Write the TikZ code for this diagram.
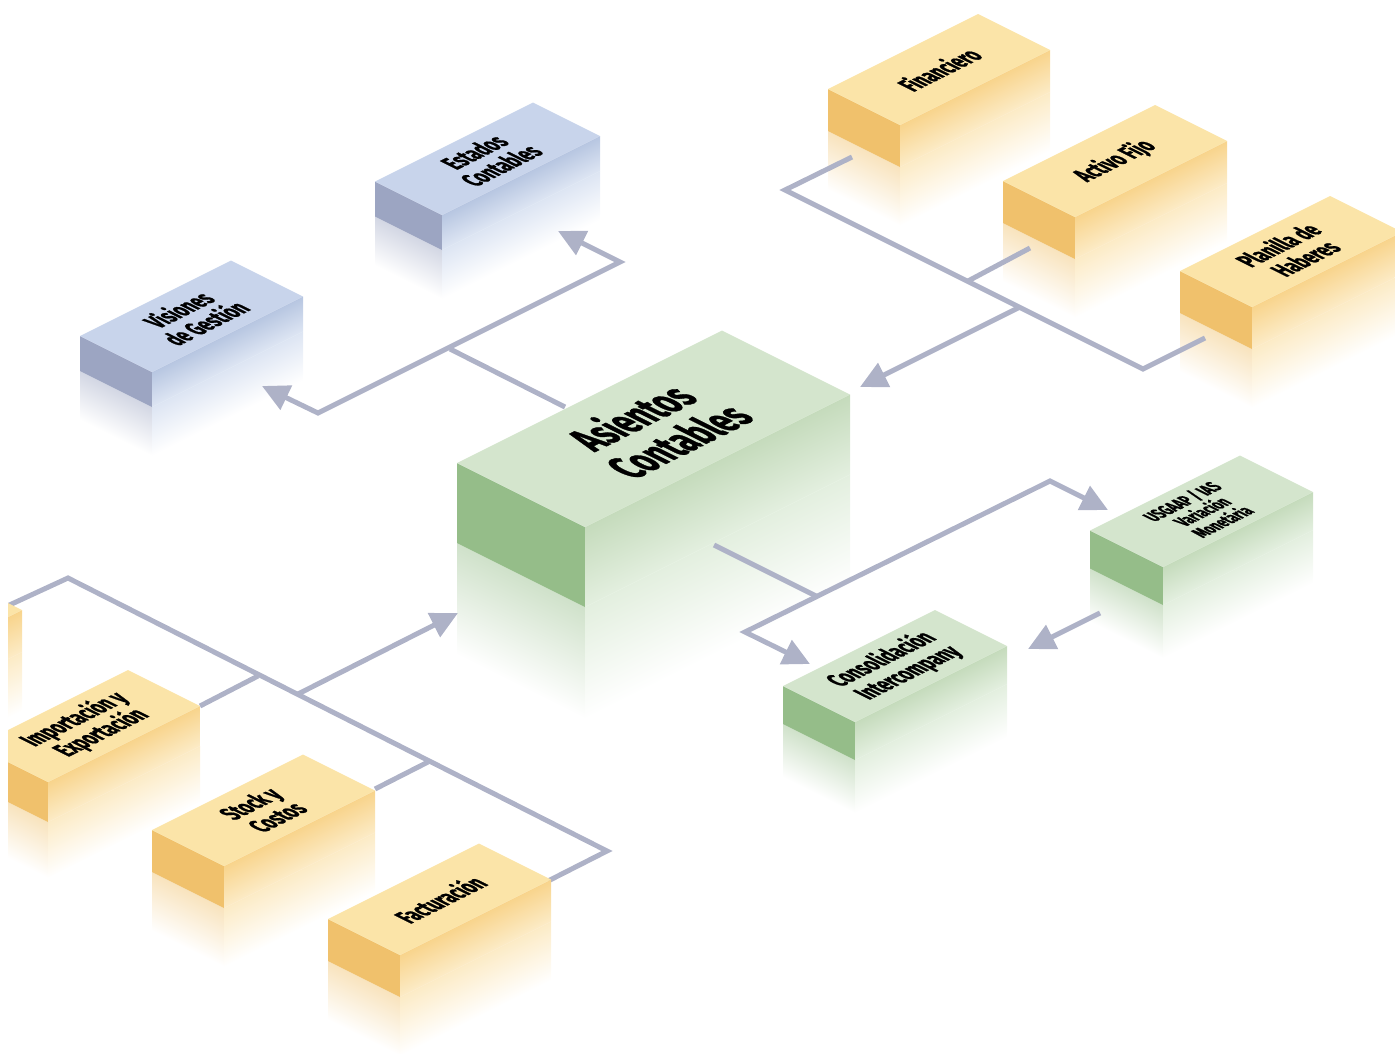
\documentclass[tikz,border=0pt]{standalone}
\usepackage{fontspec}
\setmainfont{Fira Sans}
\newfontfamily\labfont[FakeBold=1.2]{Fira Sans}
\usetikzlibrary{arrows.meta}
\definecolor{y-top}{HTML}{FBE4A8}
\definecolor{y-left}{HTML}{F0C16C}
\definecolor{y-right}{HTML}{F8D48C}
\definecolor{y-rr}{HTML}{FCEBC6}
\definecolor{g-top}{HTML}{D4E5CD}
\definecolor{g-left}{HTML}{95BD89}
\definecolor{g-right}{HTML}{C5DBBC}
\definecolor{g-rr}{HTML}{E3EFDF}
\definecolor{b-top}{HTML}{C8D4EB}
\definecolor{b-left}{HTML}{9CA5C2}
\definecolor{b-right}{HTML}{B7C6E1}
\definecolor{b-rr}{HTML}{DDE5F3}
\definecolor{lineC}{HTML}{AEB2C7}
\tikzset{
  conn/.style={draw=lineC, line width=5pt, line join=miter},
  arr/.style={conn, -{Triangle[length=27pt,width=26pt]}},
  biarr/.style={conn, {Triangle[length=27pt,width=26pt]}-{Triangle[length=27pt,width=26pt]}},
  isotext/.style={transform shape, align=center, inner sep=0pt, text=black}
}
% coordinates of a block: #1 name, #2 #3 front-top corner, #4 L, #5 R
\newcommand\isobox[5]{%
  \coordinate (#1-F) at (#2,#3);
  \path (#1-F) ++(-#4,-#4/2) coordinate (#1-L);
  \path (#1-F) ++(#5,-#5/2) coordinate (#1-R);
  \path (#1-F) ++(#5/2-#4/2,-#4/4-#5/4) coordinate (#1-C);
}
% reflections: #1 name #2 L #3 R #4 H #5 palette
\newcommand\boxrefl[5]{%
  \begin{scope}[shift={(#1-L)}, cm={1,-0.5,0,1,(0,0)}]
    \pgflowlevelsynccm
    \shade[top color=#5-left!45!white, bottom color=white] (0,#4) -- (#2,#4) -- (#2,2.4*#4) -- (0,2.4*#4) -- cycle;
  \end{scope}
  \begin{scope}[shift={(#1-F)}, cm={1,0.5,0,1,(0,0)}]
    \pgflowlevelsynccm
    \shade[top color=#5-rr, bottom color=white] (0,#4) -- (#3,#4) -- (#3,2.4*#4) -- (0,2.4*#4) -- cycle;
  \end{scope}
}
% faces
\newcommand\boxfaces[5]{%
  \fill[#5-left] (#1-L) -- (#1-F) -- ++(0,#4) -- ++(-#2,-#2/2) -- cycle;
  \begin{scope}[shift={(#1-F)}, cm={1,0.5,0,1,(0,0)}]
    \pgflowlevelsynccm
    \shade[top color=#5-right, bottom color=#5-rr] (0,0) -- (#3,0) -- (#3,#4) -- (0,#4) -- cycle;
  \end{scope}
  \fill[#5-top] (#1-F) -- (#1-L) -- ++(#3,-#3/2) -- (#1-R) -- cycle;
}
\newcommand\isolabel[4]{% #1 box name, #2 font size, #3 leading, #4 text
  \begin{scope}[shift={(#1-C)}, cm={0.5366,0.2683,-0.8944,0.4472,(0,0)}]
    \node[isotext, font=\labfont\fontsize{#2}{#3}\selectfont\bfseries] (#1-text) at (0,0) {#4};
  \end{scope}
}
\begin{document}
\begin{tikzpicture}[x=1pt,y=-1pt]
\useasboundingbox (0,0) rectangle (1395,1053);
\clip (8,0) rectangle (1395,1053);
% blocks
\isobox{main}{585}{527}{128}{265}
\isobox{est}{442}{215}{67}{158}
\isobox{vis}{152}{372}{72}{151}
\isobox{fin}{900}{125}{72}{150}
\isobox{act}{1075}{217}{72}{152}
\isobox{pla}{1252}{307}{72}{150}
\isobox{usg}{1163}{567}{73}{150}
\isobox{con}{855}{722}{72}{152}
\isobox{ext}{-128}{685}{72}{150}
\isobox{imp}{48}{782}{72}{152}
\isobox{sto}{224}{866}{72}{151}
\isobox{fac}{400}{955}{72}{151}
% reflections
\boxrefl{est}{67}{158}{35}{b}
\boxrefl{vis}{72}{151}{35}{b}
\boxrefl{fin}{72}{150}{42}{y}
\boxrefl{act}{72}{152}{42}{y}
\boxrefl{pla}{72}{150}{42}{y}
\boxrefl{main}{128}{265}{80}{g}
\boxrefl{usg}{73}{150}{38}{g}
\boxrefl{con}{72}{152}{38}{g}
\boxrefl{ext}{72}{150}{42}{y}
\boxrefl{imp}{72}{152}{40}{y}
\boxrefl{sto}{72}{151}{42}{y}
\boxrefl{fac}{72}{151}{42}{y}
% connector points
\coordinate (tl-s) at (565,407);
\coordinate (tl-j) at (450,349);
\coordinate (tl-a) at (318,413);
\coordinate (tl-b) at (620,262);
\coordinate (vis-tip) at (262,386);
\coordinate (est-tip) at (558,231);
\coordinate (fin-s) at (852,157);
\coordinate (tr-c1) at (785,190);
\coordinate (tr-c2) at (1143,369);
\coordinate (pla-s) at (1205,338);
\coordinate (act-s) at (1030,248);
\coordinate (tr-j1) at (968,281);
\coordinate (tr-j2) at (1020,307);
\coordinate (main-tip1) at (860,387);
\coordinate (br-s) at (714,545);
\coordinate (br-j) at (818,597);
\coordinate (br-c1) at (745,632);
\coordinate (br-c2) at (1050,481);
\coordinate (usg-tip) at (1108,510);
\coordinate (con-tip) at (810,664);
\coordinate (usg-s) at (1100,613);
\coordinate (con-tip2) at (1028,649);
\coordinate (ext-s) at (-10,614);
\coordinate (bl-c1) at (68,578);
\coordinate (bl-c2) at (607,851);
\coordinate (fac-s) at (548,881);
\coordinate (imp-s) at (200,706);
\coordinate (bl-j1) at (258,676);
\coordinate (sto-s) at (375,789);
\coordinate (bl-j2) at (428,762);
\coordinate (bl-j3) at (298,694);
\coordinate (main-tip2) at (458,613);
% connectors
\draw[conn] (tl-s) -- (tl-j);
\draw[biarr] (vis-tip) -- (tl-a) -- (tl-b) -- (est-tip);
\draw[conn] (fin-s) -- (tr-c1) -- (tr-c2) -- (pla-s);
\draw[conn] (act-s) -- (tr-j1);
\draw[arr] (tr-j2) -- (main-tip1);
\draw[conn] (br-s) -- (br-j);
\draw[biarr] (con-tip) -- (br-c1) -- (br-c2) -- (usg-tip);
\draw[arr] (usg-s) -- (con-tip2);
\draw[conn] (ext-s) -- (bl-c1) -- (bl-c2) -- (fac-s);
\draw[conn] (imp-s) -- (bl-j1);
\draw[conn] (sto-s) -- (bl-j2);
\draw[arr] (bl-j3) -- (main-tip2);
% faces
\boxfaces{fin}{72}{150}{42}{y}
\boxfaces{est}{67}{158}{35}{b}
\boxfaces{act}{72}{152}{42}{y}
\boxfaces{pla}{72}{150}{42}{y}
\boxfaces{vis}{72}{151}{35}{b}
\boxfaces{main}{128}{265}{80}{g}
\boxfaces{usg}{73}{150}{38}{g}
\boxfaces{ext}{72}{150}{42}{y}
\boxfaces{con}{72}{152}{38}{g}
\boxfaces{imp}{72}{152}{40}{y}
\boxfaces{sto}{72}{151}{42}{y}
\boxfaces{fac}{72}{151}{42}{y}
% labels
\isolabel{main}{50}{53}{Asientos\\Contables}
\isolabel{est}{28}{30}{Estados\\Contables}
\isolabel{vis}{28}{30}{Visiones\\de Gestión}
\isolabel{fin}{28}{30}{Financiero}
\isolabel{act}{28}{30}{Activo Fijo}
\isolabel{pla}{28}{30}{Planilla de\\Haberes}
\isolabel{usg}{21}{22.5}{USGAAP / IAS\\Variación\\Monetária}
\isolabel{con}{28}{30}{Consolidación\\Intercompany}
\isolabel{imp}{28}{30}{Importación y\\Exportación}
\isolabel{sto}{28}{30}{Stock y\\Costos}
\isolabel{fac}{28}{30}{Facturación}
\end{tikzpicture}
\end{document}
